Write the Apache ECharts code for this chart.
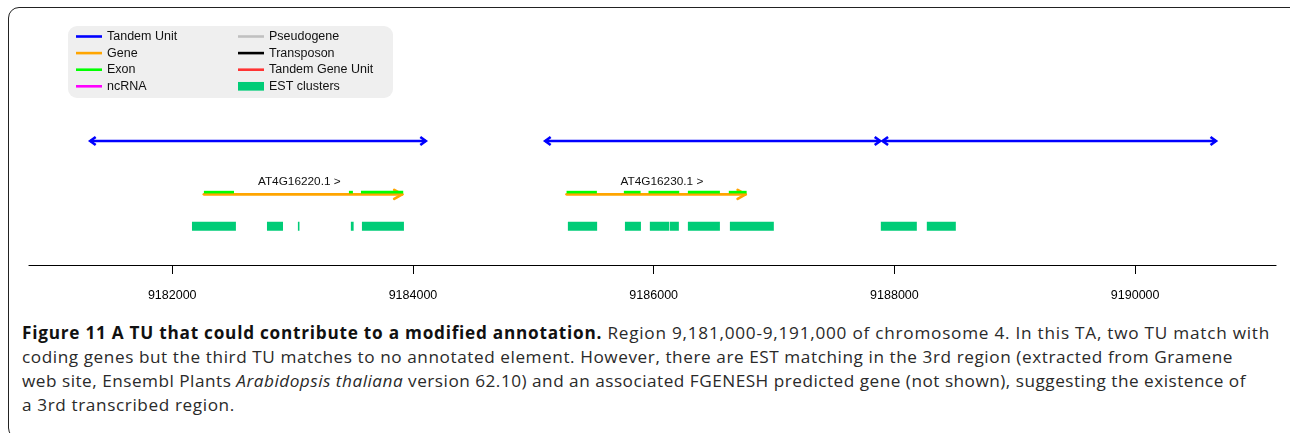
<!DOCTYPE html>
<html>
<head>
<meta charset="utf-8">
<script src="https://cdn.jsdelivr.net/npm/echarts@6/dist/echarts.min.js"></script>
<style>
  html, body { margin: 0; padding: 0; width: 1290px; height: 433px; overflow: hidden; background: #fff; }
  #frame { position: absolute; left: 8px; top: 7px; width: 1310px; height: 432px; border: 1.5px solid #222; border-radius: 11px; box-sizing: border-box; }
  #chart { position: absolute; left: 0; top: 0; width: 1290px; height: 310px; }
  #caption { position: absolute; left: 22px; top: 321px; font-family: 'Open Sans', sans-serif; font-size: 17.2px; line-height: 24px; color: #2a2a2a; white-space: nowrap; }
  #caption div { display: block; width: max-content; }
  #caption b { color: #111; }
</style>
</head>
<body>
<div id="frame"></div>
<div id="chart"></div>
<div id="caption">
  <div><b>Figure 11 A TU that could contribute to a modified annotation.</b> Region 9,181,000-9,191,000 of chromosome 4. In this TA, two TU match with</div>
  <div>coding genes but the third TU matches to no annotated element. However, there are EST matching in the 3rd region (extracted from Gramene</div>
  <div>web site, Ensembl Plants <i>Arabidopsis thaliana</i> version 62.10) and an associated FGENESH predicted gene (not shown), suggesting the existence of</div>
  <div>a 3rd transcribed region.</div>
</div>
<script>
// region shown on chromosome 4 (bp)
const xMin = 9180810
const xMax = 9191170
const tickValues = [9182000, 9184000, 9186000, 9188000, 9190000]

// tandem units [start, end]
const tandemUnits = [
  [9181310, 9184115],
  [9185090, 9187890],
  [9187893, 9190680]
]
// genes [name, start, end]
const genes = [
  ['AT4G16220.1', 9182263, 9183919],
  ['AT4G16230.1', 9185276, 9186772]
]
// exons [start, end]
const exons = [
  [9182263, 9182513], [9183468, 9183501], [9183568, 9183919],
  [9185276, 9185528], [9185752, 9185891], [9185957, 9186212],
  [9186284, 9186550], [9186624, 9186772]
]
// EST clusters [start, end]
const estClusters = [
  [9182164, 9182529], [9182787, 9182920], [9183044, 9183057],
  [9183484, 9183507], [9183576, 9183925], [9185287, 9185530],
  [9185761, 9185894], [9185968, 9186129], [9186134, 9186209],
  [9186284, 9186550], [9186633, 9186998], [9187887, 9188186],
  [9188269, 9188510]
]

// track lanes on the hidden y axis
const LANE_TU = 8
const LANE_GENE = 4.56
const LANE_EST = 2.5

const BLUE = '#0000ff'
const ORANGE = '#ffa500'
const GREEN = '#00ff00'
const EST_GREEN = '#00cc77'
const LINE_ICON = 'path://M0,0H26V2.6H0Z'
const BOX_ICON = 'path://M0,0H24V8H0Z'

const chart = echarts.init(document.getElementById('chart'))

function tuItem(params, api) {
  const a = api.coord([api.value(0), LANE_TU])
  const b = api.coord([api.value(1), LANE_TU])
  const w = 6.5, h = 4
  const st = { stroke: BLUE, lineWidth: 2.6, fill: null }
  return {
    type: 'group',
    children: [
      { type: 'line', shape: { x1: a[0] + 1, y1: a[1], x2: b[0] - 1, y2: b[1] }, style: st },
      { type: 'polyline', shape: { points: [[a[0] + w, a[1] - h], [a[0] + 1, a[1]], [a[0] + w, a[1] + h]] }, style: st },
      { type: 'polyline', shape: { points: [[b[0] - w, b[1] - h], [b[0] - 1, b[1]], [b[0] - w, b[1] + h]] }, style: st }
    ]
  }
}

function geneItem(params, api) {
  const a = api.coord([api.value(1), LANE_GENE])
  const b = api.coord([api.value(2), LANE_GENE])
  const st = { stroke: ORANGE, lineWidth: 2.7, fill: null, lineCap: 'round', lineJoin: 'round' }
  return {
    type: 'group',
    children: [
      { type: 'line', shape: { x1: a[0], y1: a[1], x2: b[0] - 1, y2: b[1] }, style: st },
      { type: 'polyline', shape: { points: [[b[0] - 9, b[1] - 4.5], [b[0] - 1, b[1]], [b[0] - 9, b[1] + 4.5]] }, style: st },
      {
        type: 'text',
        x: a[0] + 54, y: a[1] - 12.5,
        style: {
          text: genes[params.dataIndex][0] + ' >',
          fill: '#111', fontSize: 11.8, fontFamily: 'Liberation Sans',
          verticalAlign: 'middle', align: 'left'
        }
      }
    ]
  }
}

function exonItem(params, api) {
  const a = api.coord([api.value(0), LANE_GENE])
  const b = api.coord([api.value(1), LANE_GENE])
  return {
    type: 'line',
    shape: { x1: a[0], y1: a[1] - 2.2, x2: b[0], y2: b[1] - 2.2 },
    style: { stroke: GREEN, lineWidth: 2.6 }
  }
}

function estItem(params, api) {
  const a = api.coord([api.value(0), LANE_EST])
  const b = api.coord([api.value(1), LANE_EST])
  return {
    type: 'rect',
    shape: { x: a[0], y: a[1] - 4.5, width: Math.max(b[0] - a[0], 1.2), height: 9 },
    style: { fill: EST_GREEN }
  }
}

const legendText = { fontFamily: 'Liberation Sans', fontSize: 12.5, color: '#111' }

const option = {
  animation: false,
  graphic: [{
    type: 'rect', z: 0,
    shape: { x: 68, y: 26, width: 325, height: 72, r: 9 },
    style: { fill: '#efefef' }
  }],
  legend: [
    {
      orient: 'vertical', left: 76, top: 30, padding: 0,
      itemWidth: 26, itemHeight: 12, itemGap: 3.6,
      selectedMode: false, textStyle: legendText,
      data: [
        { name: 'Tandem Unit', icon: LINE_ICON },
        { name: 'Gene', icon: LINE_ICON },
        { name: 'Exon', icon: LINE_ICON },
        { name: 'ncRNA', icon: LINE_ICON }
      ]
    },
    {
      orient: 'vertical', left: 238, top: 30, padding: 0,
      itemWidth: 26, itemHeight: 12, itemGap: 3.6,
      selectedMode: false, textStyle: legendText,
      data: [
        { name: 'Pseudogene', icon: LINE_ICON },
        { name: 'Transposon', icon: LINE_ICON },
        { name: 'Tandem Gene Unit', icon: LINE_ICON },
        { name: 'EST clusters', icon: BOX_ICON }
      ]
    }
  ],
  grid: { left: 29, right: 14, top: 110, bottom: 45 },
  xAxis: {
    type: 'value', min: xMin, max: xMax,
    axisLine: { show: true, onZero: false, lineStyle: { color: '#000', width: 1.2 } },
    axisTick: { show: true, customValues: tickValues, length: 9, lineStyle: { color: '#000', width: 1 } },
    axisLabel: {
      customValues: tickValues, margin: 24,
      fontFamily: 'Liberation Sans', fontSize: 12.5, color: '#000',
      formatter: (v) => String(v)
    },
    splitLine: { show: false }
  },
  yAxis: { type: 'value', min: 0, max: 10, show: false },
  series: [
    { name: 'Tandem Unit', type: 'custom', itemStyle: { color: BLUE }, renderItem: tuItem, encode: { x: [0, 1] }, data: tandemUnits },
    { name: 'Gene', type: 'custom', itemStyle: { color: ORANGE }, renderItem: geneItem, encode: { x: [1, 2] }, data: genes },
    { name: 'Exon', type: 'custom', itemStyle: { color: GREEN }, renderItem: exonItem, encode: { x: [0, 1] }, data: exons },
    { name: 'ncRNA', type: 'custom', itemStyle: { color: '#ff00ff' }, renderItem: () => null, data: [] },
    { name: 'Pseudogene', type: 'custom', itemStyle: { color: '#c0c0c0' }, renderItem: () => null, data: [] },
    { name: 'Transposon', type: 'custom', itemStyle: { color: '#000000' }, renderItem: () => null, data: [] },
    { name: 'Tandem Gene Unit', type: 'custom', itemStyle: { color: '#ff3333' }, renderItem: () => null, data: [] },
    { name: 'EST clusters', type: 'custom', itemStyle: { color: EST_GREEN }, renderItem: estItem, encode: { x: [0, 1] }, data: estClusters }
  ]
}

chart.setOption(option)

// stretch caption lines to the widths of the printed figure legend
const captionWidths = [1248, 1211, 1224]
const lines = document.querySelectorAll('#caption div')
let spacingSum = 0
captionWidths.forEach((w, i) => {
  const el = lines[i]
  const natural = el.getBoundingClientRect().width
  const sp = (w - natural) / el.textContent.length
  el.style.letterSpacing = sp + 'px'
  spacingSum += sp
})
lines[3].style.letterSpacing = (spacingSum / captionWidths.length) + 'px'
</script>
</body>
</html>
